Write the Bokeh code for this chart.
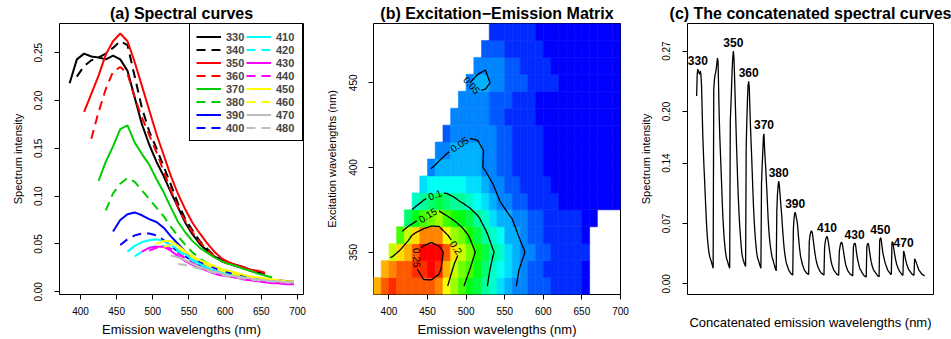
import math
import colorsys
import numpy as np
import contourpy
from bokeh.plotting import figure
from bokeh.models import (Range1d, FixedTicker, Title, Legend, LegendItem,
                          LinearColorMapper, ColumnDataSource, PrintfTickFormatter)
from bokeh.layouts import row
from bokeh.embed import file_html
from bokeh.resources import INLINE
from bokeh.core.properties import value

# ---------------- data ----------------
EX = [330, 340, 350, 360, 370, 380, 390, 400, 410, 420, 430, 440, 450, 460, 470, 480]
EM = list(range(385, 700, 10))          # emission grid 385..695 nm
EM_START = [385, 395, 405, 415, 425, 435, 445, 455, 465, 475, 485, 495, 505, 515, 525, 535]

S330 = [0.218, 0.243, 0.249, 0.246, 0.245, 0.243, 0.247, 0.243, 0.231, 0.203,
        0.175, 0.154, 0.136, 0.121, 0.104, 0.088, 0.072, 0.060, 0.050, 0.043,
        0.037, 0.033, 0.030, 0.028, 0.026, 0.023, 0.021, 0.018]
S340 = [0.225, 0.236, 0.242, 0.245, 0.249, 0.255, 0.262, 0.258, 0.225, 0.192,
        0.168, 0.150, 0.131, 0.112, 0.092, 0.076, 0.064, 0.053, 0.045, 0.038,
        0.033, 0.029, 0.027, 0.025, 0.022, 0.020, 0.018]
S350 = [0.188, 0.207, 0.226, 0.248, 0.262, 0.270, 0.262, 0.240, 0.215, 0.190,
        0.165, 0.143, 0.121, 0.102, 0.086, 0.072, 0.061, 0.051, 0.042, 0.035,
        0.031, 0.028, 0.026, 0.023, 0.022, 0.020]
S360 = [0.160, 0.188, 0.212, 0.230, 0.235, 0.228, 0.203, 0.182, 0.164, 0.146,
        0.126, 0.106, 0.088, 0.074, 0.062, 0.052, 0.044, 0.037, 0.032, 0.029,
        0.027, 0.025, 0.022, 0.020, 0.018]
S370 = [0.116, 0.136, 0.152, 0.170, 0.174, 0.156, 0.144, 0.133, 0.118, 0.104,
        0.088, 0.073, 0.062, 0.053, 0.046, 0.041, 0.036, 0.032, 0.029, 0.027,
        0.024, 0.022, 0.019, 0.017, 0.015]
S380 = [0.085, 0.103, 0.113, 0.119, 0.115, 0.106, 0.097, 0.088, 0.079, 0.068,
        0.058, 0.049, 0.041, 0.035, 0.030, 0.026, 0.023, 0.021, 0.019, 0.017,
        0.015, 0.014, 0.013, 0.012, 0.011, 0.011, 0.010]
S390 = [0.063, 0.075, 0.081, 0.083, 0.080, 0.076, 0.073, 0.067, 0.058, 0.050,
        0.042, 0.036, 0.031, 0.028, 0.025, 0.022, 0.020, 0.018, 0.016, 0.015,
        0.014, 0.013, 0.012, 0.012, 0.011, 0.011]
S400 = [0.049, 0.055, 0.059, 0.061, 0.061, 0.059, 0.054, 0.048, 0.042, 0.037,
        0.032, 0.028, 0.025, 0.022, 0.020, 0.018, 0.017, 0.015, 0.014, 0.013,
        0.012, 0.012, 0.011, 0.011, 0.010]
S410 = [0.042, 0.048, 0.052, 0.054, 0.055, 0.053, 0.049, 0.044, 0.039, 0.034,
        0.029, 0.025, 0.022, 0.020, 0.018, 0.016, 0.015, 0.014, 0.013, 0.012,
        0.011, 0.011, 0.010, 0.010]
S420 = [0.037, 0.042, 0.046, 0.048, 0.048, 0.046, 0.042, 0.037, 0.032, 0.028,
        0.024, 0.021, 0.019, 0.017, 0.015, 0.014, 0.013, 0.012, 0.011, 0.011,
        0.010, 0.010, 0.009]
S430 = [0.042, 0.046, 0.047, 0.047, 0.043, 0.037, 0.032, 0.028, 0.025, 0.022,
        0.019, 0.017, 0.016, 0.015, 0.013, 0.012, 0.011, 0.010, 0.009, 0.009,
        0.008, 0.008]
S440 = [0.043, 0.046, 0.047, 0.045, 0.040, 0.035, 0.030, 0.026, 0.023, 0.020,
        0.018, 0.016, 0.015, 0.014, 0.013, 0.012, 0.011, 0.010, 0.009, 0.009,
        0.008]
S450 = [0.050, 0.053, 0.053, 0.048, 0.042, 0.037, 0.033, 0.030, 0.027, 0.024,
        0.022, 0.020, 0.018, 0.016, 0.015, 0.014, 0.013, 0.012, 0.011, 0.011]
S460 = [0.047, 0.049, 0.046, 0.041, 0.036, 0.032, 0.028, 0.025, 0.022, 0.020,
        0.018, 0.017, 0.015, 0.014, 0.013, 0.012, 0.011, 0.010, 0.010]
S470 = [0.038, 0.036, 0.033, 0.029, 0.026, 0.023, 0.021, 0.019, 0.017, 0.016,
        0.015, 0.014, 0.013, 0.012, 0.011, 0.011, 0.010, 0.010]
S480 = [0.029, 0.028, 0.026, 0.024, 0.022, 0.020, 0.018, 0.016, 0.015, 0.014,
        0.013, 0.012, 0.011, 0.011, 0.010, 0.010, 0.009]

SPECTRA = [S330, S340, S350, S360, S370, S380, S390, S400,
           S410, S420, S430, S440, S450, S460, S470, S480]

COLORS = ["black", "black", "red", "red", "#00CD00", "#00CD00", "blue", "blue",
          "cyan", "cyan", "magenta", "magenta", "yellow", "yellow", "#BEBEBE", "#BEBEBE"]
DASHES = ["solid", "9 6"] * 8

LEVELS = [0.05, 0.1, 0.15, 0.2, 0.25]
CLABELS = [("0.05", 0.05, 510, 450), ("0.05", 0.05, 493, 412), ("0.1", 0.1, 461, 382),
           ("0.15", 0.15, 452, 371), ("0.2", 0.2, 482, 351), ("0.25", 0.25, 449, 347)]
PEAK_LABELS = [330, 350, 360, 370, 380, 390, 410, 430, 450, 470]

YTICKS_A = [0.0, 0.05, 0.10, 0.15, 0.20, 0.25]
YTICKS_C = [0.0, 0.07, 0.14, 0.20, 0.27]
XTICKS = [400, 450, 500, 550, 600, 650, 700]
YTICKS_B = [350, 400, 450]

FONT = "Liberation Sans"
H = 339
FH = 272


def em_of(i):
    return [EM_START[i] + 10 * k for k in range(len(SPECTRA[i]))]


def base_fig(width, xr, yr, ml, mr, title):
    p = figure(width=width, height=H, x_range=xr, y_range=yr, output_backend="svg",
               toolbar_location=None, min_border_left=ml, min_border_right=mr,
               min_border_top=23, min_border_bottom=44)
    p.title = Title(text=title, align="center", text_font=FONT, text_font_size="16px",
                    text_font_style="bold", text_color="black", standoff=3, offset=0)
    p.grid.visible = False
    p.outline_line_color = "black"
    p.outline_line_width = 1
    p.outline_line_alpha = 1
    p.background_fill_color = "white"
    p.border_fill_color = "white"
    for ax in p.axis:
        ax.axis_line_color = None
        ax.major_tick_out = 5
        ax.major_tick_in = 0
        ax.minor_tick_line_color = None
        ax.major_tick_line_color = "black"
        ax.major_label_text_font = FONT
        ax.major_label_text_font_size = "10px"
        ax.major_label_text_color = "black"
        ax.axis_label_text_font = FONT
        ax.axis_label_text_font_style = "normal"
        ax.axis_label_text_color = "black"
    p.xaxis.axis_label_text_font_size = "13px"
    p.yaxis.axis_label_text_font_size = "11px"
    p.xaxis.major_label_standoff = 7
    p.xaxis.axis_label_standoff = 4
    p.yaxis.major_label_standoff = 12
    p.yaxis.axis_label_standoff = 8
    p.yaxis.major_label_orientation = "vertical"
    return p


# ---------------- panel (a) ----------------
pa = base_fig(313, Range1d(371, 708.3), Range1d(-0.0028, 0.2805), 59, 10,
              "(a) Spectral curves")
pa.xaxis.ticker = FixedTicker(ticks=XTICKS)
pa.yaxis.ticker = FixedTicker(ticks=YTICKS_A)
pa.yaxis.formatter = PrintfTickFormatter(format="%.2f")
pa.xaxis.axis_label = "Emission wavelengths (nm)"
pa.yaxis.axis_label = "Spectrum intensity"
items = []
for i, ex in enumerate(EX):
    r = pa.line(em_of(i), SPECTRA[i], line_color=COLORS[i], line_width=2,
                line_dash=DASHES[i])
    items.append(LegendItem(label=str(ex), renderers=[r]))
leg = Legend(items=items, location="top_right", orientation="vertical", nrows=8,
             border_line_color="black", border_line_width=1, border_line_alpha=1,
             margin=0, padding=6, spacing=0,
             glyph_width=25, glyph_height=13, label_height=13, label_standoff=5,
             label_text_font=FONT, label_text_font_size="11px",
             label_text_font_style="bold", background_fill_alpha=1.0)
pa.add_layout(leg)

# ---------------- panel (b) ----------------
BX0, BX1, BY0, BY1 = 380, 700, 325, 485
FWB = 247
KX = FWB / (BX1 - BX0)
KY = FH / (BY1 - BY0)
pb = base_fig(317, Range1d(BX0, BX1), Range1d(BY0, BY1), 60, 10,
              "(b) Excitation\u2212Emission Matrix")
pb.xaxis.ticker = FixedTicker(ticks=XTICKS)
pb.yaxis.ticker = FixedTicker(ticks=YTICKS_B)
pb.xaxis.axis_label = "Emission wavelengths (nm)"
pb.yaxis.axis_label = "Excitation wavelengths (nm)"

Z = np.full((len(EX), len(EM)), np.nan)
for i in range(len(EX)):
    for e, v in zip(em_of(i), SPECTRA[i]):
        Z[i, EM.index(e)] = v

NCOL = 24
PAL = []
for k in range(NCOL):
    h = (4 / 6) * (1 - k / (NCOL - 1))
    r_, g_, b_ = colorsys.hsv_to_rgb(h, 1, 1)
    PAL.append("#%02x%02x%02x" % (round(r_ * 255), round(g_ * 255), round(b_ * 255)))
mapper = LinearColorMapper(palette=PAL, low=float(np.nanmin(Z)), high=float(np.nanmax(Z)))

hx = (EM[1] - EM[0]) / 2
hy = (EX[1] - EX[0]) / 2
cells = dict(left=[], right=[], bottom=[], top=[], z=[])
for i, ex in enumerate(EX):
    for j, em in enumerate(EM):
        if not np.isnan(Z[i, j]):
            cells["left"].append(em - hx)
            cells["right"].append(em + hx)
            cells["bottom"].append(ex - hy)
            cells["top"].append(ex + hy)
            cells["z"].append(float(Z[i, j]))
pb.quad(left="left", right="right", bottom="bottom", top="top",
        source=ColumnDataSource(cells),
        fill_color={"field": "z", "transform": mapper},
        line_color={"field": "z", "transform": mapper}, line_width=0.6)

cg = contourpy.contour_generator(x=np.array(EM, float), y=np.array(EX, float),
                                 z=np.ma.masked_invalid(Z))


def densify(L):
    sx = (L[:, 0] - BX0) * KX
    sy = (L[:, 1] - BY0) * KY
    xs, ys = [sx[0]], [sy[0]]
    for k in range(1, len(sx)):
        d = math.hypot(sx[k] - sx[k - 1], sy[k] - sy[k - 1])
        n = max(1, int(math.ceil(d)))
        for t in range(1, n + 1):
            f = t / n
            xs.append(sx[k - 1] + f * (sx[k] - sx[k - 1]))
            ys.append(sy[k - 1] + f * (sy[k] - sy[k - 1]))
    xs, ys = np.array(xs), np.array(ys)
    s = np.concatenate([[0.0], np.cumsum(np.hypot(np.diff(xs), np.diff(ys)))])
    return xs, ys, s


cont_xs, cont_ys = [], []
lab = dict(x=[], y=[], t=[], a=[])
for lev in LEVELS:
    lines = [L for L in cg.lines(lev) if len(L) > 1]
    dense = [densify(L) for L in lines]
    keep = [np.ones(len(d[0]), bool) for d in dense]
    for (txt, lv, ax_, ay_) in CLABELS:
        if lv != lev or not dense:
            continue
        asx, asy = (ax_ - BX0) * KX, (ay_ - BY0) * KY
        best = None
        for li, (xs, ys, s) in enumerate(dense):
            dd = np.hypot(xs - asx, ys - asy)
            ii = int(np.argmin(dd))
            if best is None or dd[ii] < best[0]:
                best = (dd[ii], li, ii)
        _, li, ii = best
        xs, ys, s = dense[li]
        s0 = s[ii]
        i0 = max(0, min(len(s) - 1, int(np.searchsorted(s, s0 - 6))))
        i1 = max(0, min(len(s) - 1, int(np.searchsorted(s, s0 + 6))))
        ang = math.atan2(ys[i1] - ys[i0], xs[i1] - xs[i0])
        if ang > math.pi / 2:
            ang -= math.pi
        if ang < -math.pi / 2:
            ang += math.pi
        w = 10 * (0.556 * sum(c.isdigit() for c in txt) + 0.278 * txt.count("."))
        keep[li] &= np.abs(s - s0) > (w / 2 + 2)
        lab["x"].append(xs[ii] / KX + BX0)
        lab["y"].append(ys[ii] / KY + BY0)
        lab["t"].append(txt)
        lab["a"].append(ang)
    for (xs, ys, s), k in zip(dense, keep):
        idx = np.where(k)[0]
        if len(idx) < 2:
            continue
        splits = np.where(np.diff(idx) > 1)[0] + 1
        for run in np.split(idx, splits):
            if len(run) < 2:
                continue
            cont_xs.append(list(xs[run] / KX + BX0))
            cont_ys.append(list(ys[run] / KY + BY0))

pb.multi_line(cont_xs, cont_ys, line_color="black", line_width=1.3)
pb.text(x="x", y="y", text="t", angle="a", source=ColumnDataSource(lab),
        text_align="center", text_baseline="middle", text_font=value(FONT),
        text_font_size="10px", text_color="black")

# ---------------- panel (c) ----------------
cat_y = [v for sp in SPECTRA for v in sp]
N = len(cat_y)
cat_x = list(range(1, N + 1))
pad = 0.04 * (N - 1)
pc = base_fig(321, Range1d(1 - pad, N + pad), Range1d(-0.0124, 0.302), 57, 18,
              "(c) The concatenated spectral curves")
pc.xaxis.ticker = FixedTicker(ticks=[])
pc.xaxis.major_tick_out = 0
pc.xaxis.axis_label_standoff = 20
pc.yaxis.ticker = FixedTicker(ticks=YTICKS_C)
pc.yaxis.formatter = PrintfTickFormatter(format="%.2f")
pc.xaxis.axis_label = "Concatenated emission wavelengths (nm)"
pc.yaxis.axis_label = "Spectrum intensity"
pc.line(cat_x, cat_y, line_color="black", line_width=1.3)

pk = dict(x=[], y=[], t=[])
off = 0
for i, ex in enumerate(EX):
    sp = SPECTRA[i]
    j = int(np.argmax(sp))
    if ex in PEAK_LABELS:
        pk["x"].append(off + j + 1)
        pk["y"].append(sp[j])
        pk["t"].append(str(ex))
    off += len(sp)
pc.text(x="x", y="y", text="t", source=ColumnDataSource(pk), text_align="center",
        text_baseline="middle", y_offset=-9, text_font=value(FONT),
        text_font_size="12px", text_font_style="bold", text_color="black")

layout = row(pa, pb, pc)
open("out.html", "w").write(file_html(layout, INLINE))
